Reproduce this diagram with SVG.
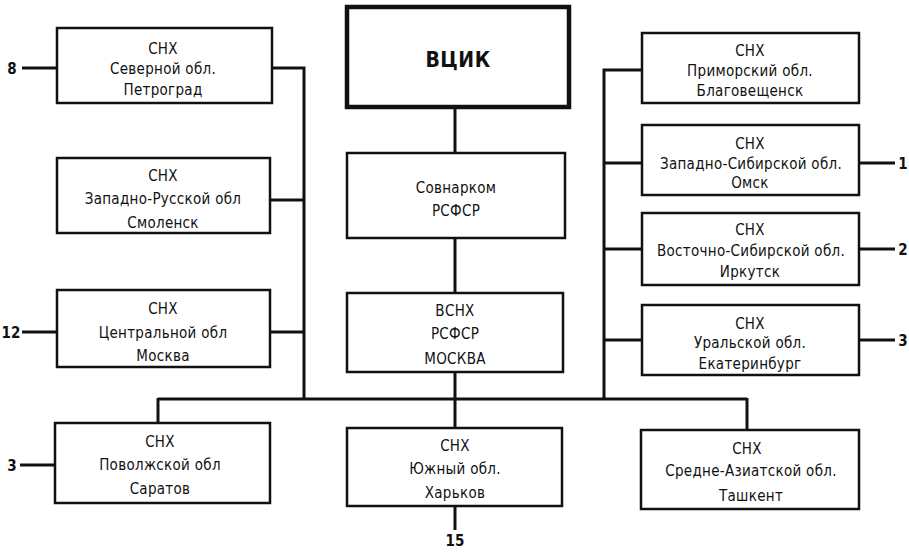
<svg xmlns="http://www.w3.org/2000/svg" width="909" height="552" viewBox="0 0 909 552">
<style>
rect.b{fill:#fff;stroke:#111;stroke-width:2.5}
rect.t{fill:#fff;stroke:#111;stroke-width:4.5}
.c line,.c polyline{stroke:#111;stroke-width:3;fill:none}
text{font-family:"Liberation Sans Narrow","DejaVu Sans Condensed","Liberation Sans",sans-serif;font-size:15px;fill:#111;text-anchor:middle;letter-spacing:0.3px}
text.n{font-weight:bold;font-size:15px;letter-spacing:0}
text.big{font-weight:bold;font-size:21px;letter-spacing:0.5px}
</style>
<rect width="909" height="552" fill="#fff"/>
<g class="c" id="connectors">
<line x1="455" y1="107" x2="455" y2="153"/>
<line x1="455" y1="238" x2="455" y2="293"/>
<line x1="455" y1="372" x2="455" y2="428"/>
<line x1="455" y1="506" x2="455" y2="530"/>
<line x1="158" y1="399" x2="747" y2="399"/>
<line x1="158" y1="398" x2="158" y2="423"/>
<line x1="747" y1="398" x2="747" y2="430"/>
<polyline points="272,68 304,68 304,399"/>
<line x1="270" y1="200" x2="304" y2="200"/>
<line x1="270" y1="332" x2="304" y2="332"/>
<polyline points="642,70 604,70 604,399"/>
<line x1="604" y1="163" x2="642" y2="163"/>
<line x1="604" y1="249" x2="642" y2="249"/>
<line x1="604" y1="340" x2="642" y2="340"/>
<line x1="22" y1="68" x2="57" y2="68"/>
<line x1="22" y1="332" x2="57" y2="332"/>
<line x1="20" y1="465" x2="55" y2="465"/>
<line x1="859" y1="163" x2="895" y2="163"/>
<line x1="859" y1="249" x2="895" y2="249"/>
<line x1="859" y1="340" x2="895" y2="340"/>
</g>
<g id="vcik"><rect class="t" x="347" y="7" width="222" height="100"/><text class="big" x="458" y="67">ВЦИК</text></g>
<g id="sovnarkom"><rect class="b" x="347" y="153" width="218" height="85"/><text x="456" y="193">Совнарком</text><text x="456" y="216">РСФСР</text></g>
<g id="vsnh"><rect class="b" x="347" y="293" width="216" height="79"/><text x="455" y="316">ВСНХ</text><text x="455" y="339">РСФСР</text><text x="455" y="364">МОСКВА</text></g>
<g id="severnaya"><rect class="b" x="57" y="28" width="215" height="75"/><text x="163" y="54">СНХ</text><text x="163" y="74">Северной обл.</text><text x="163" y="95">Петроград</text></g>
<g id="zapadno-russkaya"><rect class="b" x="57" y="158" width="213" height="75"/><text x="163" y="181">СНХ</text><text x="163" y="204">Западно-Русской обл</text><text x="163" y="228">Смоленск</text></g>
<g id="centralnaya"><rect class="b" x="57" y="290" width="213" height="77"/><text x="163" y="314">СНХ</text><text x="163" y="338">Центральной обл</text><text x="163" y="361">Москва</text></g>
<g id="povolzhskaya"><rect class="b" x="55" y="423" width="215" height="80"/><text x="160" y="447">СНХ</text><text x="160" y="470">Поволжской обл</text><text x="160" y="494">Саратов</text></g>
<g id="yuzhny"><rect class="b" x="347" y="428" width="215" height="78"/><text x="455" y="451">СНХ</text><text x="455" y="474">Южный обл.</text><text x="455" y="498">Харьков</text></g>
<g id="sredne-aziatskaya"><rect class="b" x="641" y="430" width="218" height="79"/><text x="747" y="454">СНХ</text><text x="751" y="476">Средне-Азиатской обл.</text><text x="751" y="501">Ташкент</text></g>
<g id="primorskaya"><rect class="b" x="642" y="33" width="217" height="70"/><text x="750" y="56">СНХ</text><text x="750" y="76">Приморский обл.</text><text x="750" y="96">Благовещенск</text></g>
<g id="zapadno-sibirskaya"><rect class="b" x="642" y="125" width="217" height="70"/><text x="750" y="149">СНХ</text><text x="751" y="169">Западно-Сибирской обл.</text><text x="750" y="188">Омск</text></g>
<g id="vostochno-sibirskaya"><rect class="b" x="642" y="213" width="217" height="72"/><text x="750" y="235">СНХ</text><text x="751" y="256">Восточно-Сибирской обл.</text><text x="750" y="277">Иркутск</text></g>
<g id="uralskaya"><rect class="b" x="642" y="305" width="217" height="70"/><text x="750" y="329">СНХ</text><text x="750" y="348">Уральской обл.</text><text x="750" y="369">Екатеринбург</text></g>
<g id="labels">
<text class="n" x="12" y="74">8</text>
<text class="n" x="11" y="338">12</text>
<text class="n" x="12" y="471">3</text>
<text class="n" x="903" y="169">1</text>
<text class="n" x="903" y="255">2</text>
<text class="n" x="903" y="346">3</text>
<text class="n" x="455" y="546" font-size="14">15</text>
</g>
</svg>
